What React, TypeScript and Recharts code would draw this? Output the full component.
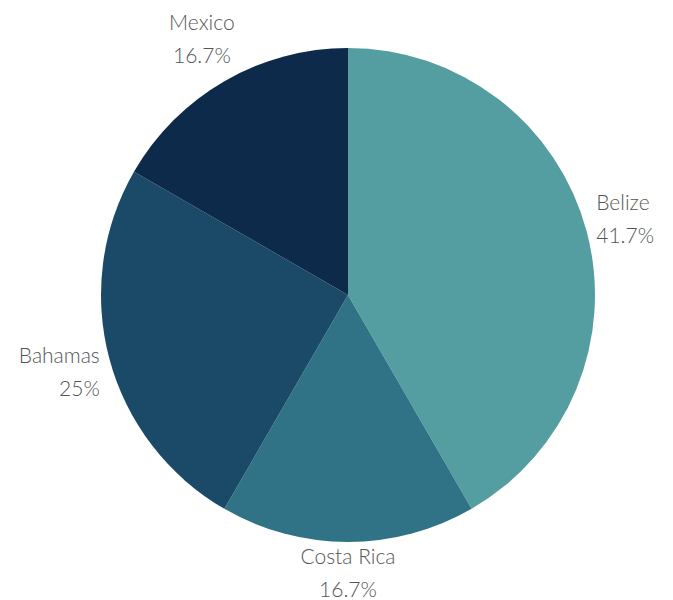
import React from 'react';
import {PieChart, Pie, Cell} from 'recharts';

const countries = ['Belize', 'Costa Rica', 'Bahamas', 'Mexico'];
const shares = [41.7, 16.7, 25, 16.7];
const labels = ['41.7%', '16.7%', '25%', '16.7%'];
const colors = ['#549ea2', '#307386', '#1a4a67', '#0d2a4a'];

const data = countries.map((name, i) => ({name, value: shares[i], label: labels[i]}));

const RAD = Math.PI / 180;

function renderLabel(props: any) {
    const {cx, cy, midAngle, outerRadius, index} = props;
    const dx = Math.cos(midAngle * RAD);
    const dy = -Math.sin(midAngle * RAD);
    const middle = Math.abs(dx) < 0.6;
    const kx = middle ? 45 : 10;
    const ky = 50 - 20 * Math.max(0, dy);
    const x = cx + dx * (outerRadius + kx);
    const y = cy + dy * (outerRadius + ky);
    const anchor = middle ? 'middle' : dx > 0 ? 'start' : 'end';
    return (
        <text x={x} y={y} textAnchor={anchor} fill="#555555" stroke="none" fontSize={21}
              fontFamily="Lato" fontWeight={300}>
            <tspan x={x} dy={-8}>{data[index].name}</tspan>
            <tspan x={x} dy={33}>{data[index].label}</tspan>
        </text>
    );
}

export default function App() {
    return (
        <PieChart width={665} height={592}>
            <Pie data={data} dataKey="value" cx={335} cy={282} outerRadius={247}
                 startAngle={90} endAngle={-270} stroke="none"
                 label={renderLabel} labelLine={false} isAnimationActive={false}>
                {data.map((d, i) => <Cell key={d.name} fill={colors[i]}/>)}
            </Pie>
        </PieChart>
    );
}
